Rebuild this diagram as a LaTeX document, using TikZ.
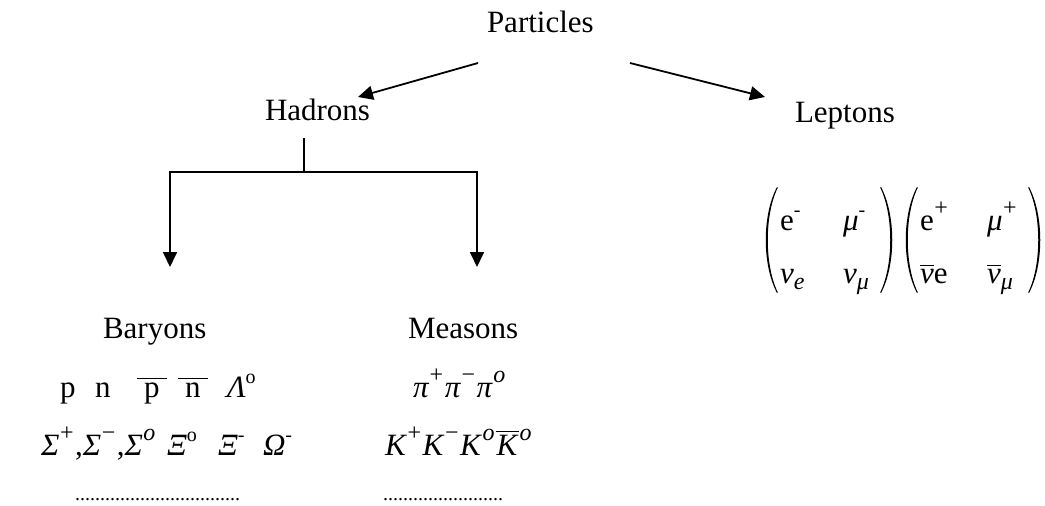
\documentclass[tikz,border=0pt]{standalone}
\usepackage{fontspec}
\setmainfont{Liberation Serif}
\usetikzlibrary{arrows.meta}
% small superscript (hyphen, upright o)
\newcommand\upx[1]{\raisebox{0.42em}{\fontsize{20}{20}\selectfont #1}}
% equation-style superscript (+, minus, italic o)
\newcommand\upm[1]{\kern0.5pt\raisebox{0.48em}{\fontsize{24}{24}\selectfont #1}\kern1.5pt}
\newcommand\dnx[1]{\raisebox{-0.22em}{\fontsize{24}{24}\selectfont #1}}
\newcommand\barx[2][2pt]{\vbox{\hrule height 1.2pt\kern 3pt\hbox{\kern#1#2\kern#1}}}
\begin{document}
\begin{tikzpicture}[x=1pt,y=-1pt,
  every node/.style={inner sep=0pt,outer sep=0pt,font=\fontsize{31}{36}\selectfont},
  lbl/.style={anchor=base west},
  lble/.style={anchor=base east},
  dots/.style={anchor=base west,font=\fontsize{20}{20}\selectfont},
  arr/.style={line width=1.8pt,line join=miter,-{Triangle[length=15pt,width=14pt]}},
  conn/.style={line width=1.8pt},
  paren/.style={fill=black}]
\useasboundingbox (0,0) rectangle (1045,506);

% main labels
\node[lbl] (particles) at (487,32) {Particles};
\node[lbl] (hadrons) at (265,120) {Hadrons};
\node[lbl] (leptons) at (795,122) {Leptons};
\node[lbl] (baryons) at (103,338) {Baryons};
\node[lbl] (measons) at (408,338) {Measons};

% arrows from Particles
\coordinate (pL) at (478,63);
\coordinate (hT) at (358,97);
\coordinate (pR) at (630,63);
\coordinate (lT) at (765,97);
\draw[arr] (pL) -- (hT);
\draw[arr] (pR) -- (lT);

% Hadrons branch
\coordinate (hB) at (304,138);
\coordinate (junc) at (304,172);
\coordinate (bT) at (170,267);
\coordinate (mT) at (477,267);
\draw[conn] (hB) -- (junc);
\draw[arr] (junc) -| (bT);
\draw[arr] (junc) -| (mT);

% baryons row 1
\node[lbl] (bp) at (60,397) {p};
\node[lbl] (bn) at (95,397) {n};
\node[lbl] (bpbar) at (137,397) {\barx[7pt]{p}};
\node[lbl] (bnbar) at (178,397) {\barx[7pt]{n}};
\node[lbl] (blam) at (227,397) {\textit{Λ}\upx{o}};

% baryons row 2
\node[lble] (bsig) at (157,455) {\textit{Σ}\upm{+},\textit{Σ}\upm{−},\textit{Σ}\upm{\textit{o}}};
\node[lbl] (bxi0) at (167,455) {\textit{Ξ}\upx{o}};
\node[lbl] (bxim) at (218,455) {\textit{Ξ}\upx{-}};
\node[lbl] (bom) at (263,455) {\textit{Ω}\upx{-}};

% measons rows
\node[lbl] (mpi) at (413,397) {\textit{π}\upm{+}\textit{π}\upm{−}\textit{π}\upm{\textit{o}}};
\node[lbl] (mk) at (385,455) {\textit{K}\upm{+}\textit{K}\upm{−}\textit{K}\upm{\textit{o}}\barx[0.5pt]{\textit{K}}\upm{\textit{o}}};

% dotted rows
\node[dots] (bdots) at (75,500) {.................................};
\node[dots] (mdots) at (383,500) {........................};

% leptons matrix
\node[lbl] (e1) at (780,230) {e\upx{-}};
\node[lbl] (mu1) at (843,230) {\textit{μ}\upx{-}};
\node[lbl] (nue) at (780,283) {\textit{ν}\dnx{\textit{e}}};
\node[lbl] (numu) at (843,283) {\textit{ν}\dnx{\textit{μ}}};
\node[lbl] (e2) at (920,230) {e\upm{+}};
\node[lbl] (mu2) at (987,230) {\textit{μ}\upm{+}};
\node[lbl] (nube) at (920,283) {\barx[0pt]{\textit{ν}}e};
\node[lbl] (nubmu) at (987,283) {\barx[0pt]{\textit{ν}}\dnx{\textit{μ}}};

% parentheses (thin, slightly tapered)
\fill[paren] (777,187) .. controls (762,215) and (762,265) .. (777,293)
  -- (777.8,292.4) .. controls (764.4,265) and (764.4,215) .. (777.8,187.6) -- cycle;
\fill[paren] (881,187) .. controls (896,215) and (896,265) .. (881,293)
  -- (880.2,292.4) .. controls (893.6,265) and (893.6,215) .. (880.2,187.6) -- cycle;
\fill[paren] (917,187) .. controls (902,215) and (902,265) .. (917,293)
  -- (917.8,292.4) .. controls (904.4,265) and (904.4,215) .. (917.8,187.6) -- cycle;
\fill[paren] (1029,187) .. controls (1044,215) and (1044,265) .. (1029,293)
  -- (1028.2,292.4) .. controls (1041.6,265) and (1041.6,215) .. (1028.2,187.6) -- cycle;
\end{tikzpicture}
\end{document}
